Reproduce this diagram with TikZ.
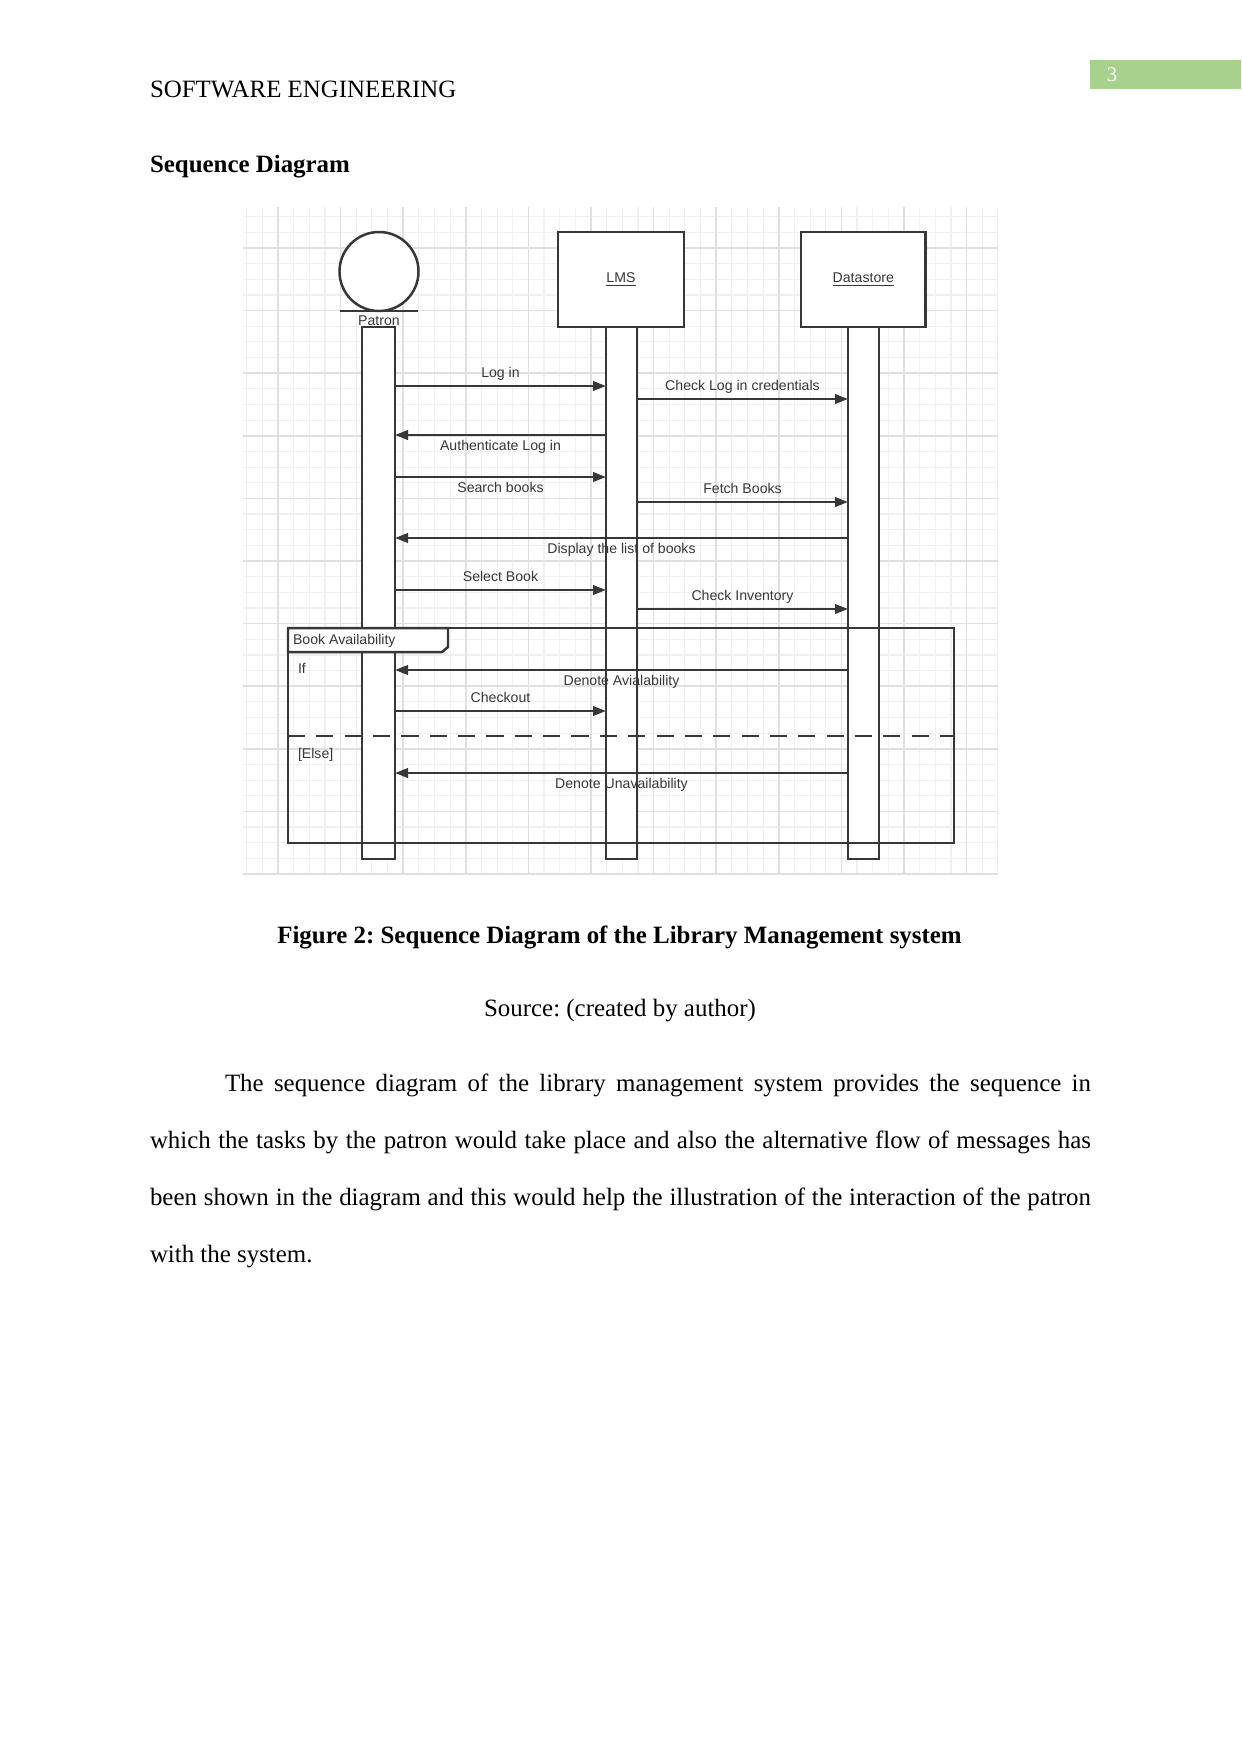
\documentclass[tikz,border=0pt]{standalone}
\usepackage{fontspec}
\setmainfont{Liberation Serif}
\newfontfamily\diagfont{Liberation Sans}
\usetikzlibrary{arrows.meta, positioning}
\definecolor{pagegreen}{RGB}{169,209,142}
\definecolor{inkgray}{RGB}{55,55,55}
\definecolor{gridminor}{RGB}{240,240,240}
\definecolor{gridmajor}{RGB}{224,224,224}
\frenchspacing

\begin{document}
\begin{tikzpicture}[x=0.16933mm, y=-0.16933mm,
    >={Triangle[length=2.2mm, width=1.6mm]},
    every node/.style={inner sep=0, outer sep=0},
    seq/.style={draw=inkgray, line width=0.42mm},
    lifeline/.style={seq, fill=white, minimum height=90.08mm, anchor=north},
    obj/.style={seq, fill=white, minimum height=16.09mm, font=\diagfont\fontsize{6.8}{8}\selectfont, text=inkgray},
    msg/.style={seq, ->},
    lbl/.style={font=\diagfont\fontsize{6.8}{8}\selectfont, text=inkgray, text height=1.5ex, text depth=.25ex},
    up/.style={lbl, midway, yshift=2.37mm},
    dn/.style={lbl, midway, yshift=-1.69mm},
    page/.style={font=\fontsize{12}{14}\selectfont}]

    \useasboundingbox (0,0) rectangle (1241,1754);
    \fill[white] (0,0) rectangle (1241,1754);

    % Page header
    \node[page, anchor=base west] (runhead) at (150,97) {SOFTWARE ENGINEERING};
    \node[fill=pagegreen, minimum width=25.57mm, minimum height=4.91mm, anchor=north west] (pagebox) at (1090,60) {};
    \node[text=white, font=\fontsize{10}{12}\selectfont] (pagenum) at (1112,75) {3};
    \node[page, font=\bfseries\fontsize{12}{14}\selectfont, anchor=base west] (sechead) at (150,172) {Sequence Diagram};

    % Grid paper
    \begin{scope}
        \clip (243,207) rectangle (998,875);
        \foreach \k in {-3,...,46}
            \draw[gridminor, line width=0.2mm] ({278+15.65*\k},207) -- ({278+15.65*\k},875);
        \foreach \k in {-3,...,40}
            \draw[gridminor, line width=0.2mm] (243,{248+15.65*\k}) -- (998,{248+15.65*\k});
        \foreach \k in {0,4,...,44}
            \draw[gridmajor, line width=0.25mm] ({278+15.65*\k},207) -- ({278+15.65*\k},875);
        \foreach \k in {0,4,...,40}
            \draw[gridmajor, line width=0.25mm] (243,{248+15.65*\k}) -- (998,{248+15.65*\k});
    \end{scope}

    % Lifelines
    \node[lifeline, minimum width=5.59mm] (patl) at (378.5,327) {};
    \node[lifeline, minimum width=5.25mm] (lmsl) at (621.5,327) {};
    \node[lifeline, minimum width=5.25mm] (dsl) at (863.5,327) {};

    % Objects
    \node[seq, circle, fill=white, minimum size=13.38mm] (patron) at (379,271.5) {};
    \draw[seq, line width=0.5mm] ([xshift=-6.6mm]patron.south) -- ([xshift=6.6mm]patron.south);
    \node[lbl, below=0mm of patron] (patname) {Patron};
    \node[obj, minimum width=21.34mm] (lms) at (621,279.5) {\underline{LMS}};
    \node[obj, minimum width=21.08mm] (ds) at (863.3,279.5) {\underline{Datastore}};

    % Alt fragment
    \node[seq, minimum width=112.77mm, minimum height=36.41mm, anchor=north west] (alt) at (288,628) {};
    \draw[seq, fill=white] (alt.north west) -- ++(160,0) -- ++(0,19) -- ++(-6,5) -- (alt.west |- 0,652) -- cycle;
    \draw[seq, dash pattern=on 2.9mm off 1.9mm] (alt.west |- 0,736) -- (alt.east |- 0,736);
    \node[lbl, anchor=west] (altname) at (293,639) {Book Availability};
    \node[lbl, anchor=west] (ifguard) at (298,668) {If};
    \node[lbl, anchor=west] (elseguard) at (298,753) {[Else]};

    % Messages
    \draw[msg] (patl.east |- 0,386) -- node[up] {Log in} (lmsl.west |- 0,386);
    \draw[msg] (lmsl.east |- 0,399) -- node[up] {Check Log in credentials} (dsl.west |- 0,399);
    \draw[msg] (lmsl.west |- 0,435) -- node[dn] {Authenticate Log in} (patl.east |- 0,435);
    \draw[msg] (patl.east |- 0,477) -- node[dn] {Search books} (lmsl.west |- 0,477);
    \draw[msg] (lmsl.east |- 0,502) -- node[up] {Fetch Books} (dsl.west |- 0,502);
    \draw[msg] (dsl.west |- 0,538) -- node[dn] {Display the list of books} (patl.east |- 0,538);
    \draw[msg] (patl.east |- 0,590) -- node[up] {Select Book} (lmsl.west |- 0,590);
    \draw[msg] (lmsl.east |- 0,609) -- node[up] {Check Inventory} (dsl.west |- 0,609);
    \draw[msg] (dsl.west |- 0,670) -- node[dn] {Denote Avialability} (patl.east |- 0,670);
    \draw[msg] (patl.east |- 0,711) -- node[up] {Checkout} (lmsl.west |- 0,711);
    \draw[msg] (dsl.west |- 0,773) -- node[dn] {Denote Unavailability} (patl.east |- 0,773);

    % Caption and text
    \node[page, font=\bfseries\fontsize{12}{14}\selectfont, anchor=base] (caption) at (619.5,943) {Figure 2: Sequence Diagram of the Library Management system};
    \node[page, anchor=base] (source) at (620,1016) {Source: (created by author)};
    \node[font=\fontsize{12}{27.6}\selectfont, text width=159.34mm, align=justify, anchor=base west] (para) at (150,1091)
        {\hspace*{12.7mm}The sequence diagram of the library management system provides the sequence in\linebreak
         which the tasks by the patron would take place and also the alternative flow of messages has\linebreak
         been shown in the diagram and this would help the illustration of the interaction of the patron\linebreak
         with the system.};
\end{tikzpicture}
\end{document}
